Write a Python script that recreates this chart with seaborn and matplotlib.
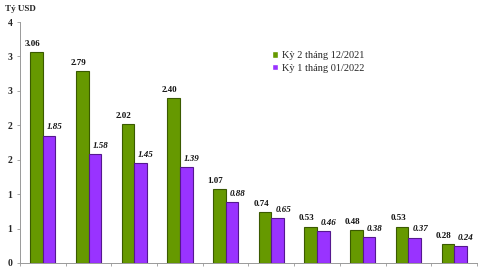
import matplotlib
matplotlib.use("Agg")
import matplotlib.pyplot as plt
import seaborn as sns
import pandas as pd
import numpy as np

categories = ["1", "2", "3", "4", "5", "6", "7", "8", "9", "10"]
series_names = ["Kỳ 2 tháng 12/2021", "Kỳ 1 tháng 01/2022"]
green_vals = [3.06, 2.79, 2.02, 2.40, 1.07, 0.74, 0.53, 0.48, 0.53, 0.28]
purple_vals = [1.85, 1.58, 1.45, 1.39, 0.88, 0.65, 0.46, 0.38, 0.37, 0.24]
y_ticks = [0, 0.5, 1, 1.5, 2, 2.5, 3, 3.5]
y_tick_labels = ["0", "1", "1", "2", "2", "3", "3", "4"]
unit_label = "Tỷ USD"

sns.set_style("white")
plt.rcParams['font.family'] = ['Liberation Serif', 'DejaVu Serif']

df = pd.DataFrame({
    "cat": categories * 2,
    "series": [series_names[0]] * len(categories) + [series_names[1]] * len(categories),
    "val": green_vals + purple_vals,
})

fig = plt.figure(figsize=(4.8, 2.7), dpi=100)
ax = fig.add_axes([20/480, 7/270, 457/480, 241/270])

colors = ["#669900", "#9933ff"]
edges = ["#3a5a00", "#55188f"]
sns.barplot(data=df, x="cat", y="val", hue="series", order=categories,
            hue_order=series_names, palette=colors, width=0.55, ax=ax,
            saturation=1, errorbar=None, legend=True)

for i, cont in enumerate(ax.containers):
    for p in cont.patches:
        p.set_edgecolor(edges[i])
        p.set_linewidth(0.8)

# data labels
for i, cont in enumerate(ax.containers):
    vals = green_vals if i == 0 else purple_vals
    for p, v in zip(cont.patches, vals):
        cx = p.get_x() + p.get_width() / 2
        off = -0.09 if i == 0 else 0.12
        ax.text(cx + off, v + 0.06, f"{v:.2f}", ha="center", va="bottom",
                fontsize=6.5, fontweight="bold",
                fontstyle="normal" if i == 0 else "italic", color="#111111")

ax.set_ylim(0, 3.5)
ax.set_xlim(-0.5, len(categories) - 0.5)
ax.set_yticks(y_ticks)
ax.set_yticklabels(y_tick_labels, fontsize=7, fontweight="bold")
ax.set_xticks(np.arange(-0.5, len(categories), 1.0))
ax.set_xticklabels([])
ax.set_xlabel("")
ax.set_ylabel("")
ax.tick_params(axis="both", length=2.5, width=0.6, color="#999999", pad=3,
               direction="out", bottom=True, left=True)
for s in ["top", "right"]:
    ax.spines[s].set_visible(False)
for s in ["left", "bottom"]:
    ax.spines[s].set_color("#999999")
    ax.spines[s].set_linewidth(0.7)

leg = ax.legend(loc="upper left", bbox_to_anchor=(248/457, 1 - 25/241),
                frameon=False, fontsize=7.5, handlelength=0.6, handleheight=0.6,
                handletextpad=0.3, labelspacing=0.35, borderaxespad=0)

fig.text(5/480, 1 - 9/270, unit_label, fontsize=6.5, fontweight="bold",
         va="center", ha="left")

fig.savefig("out.png", dpi=100)
